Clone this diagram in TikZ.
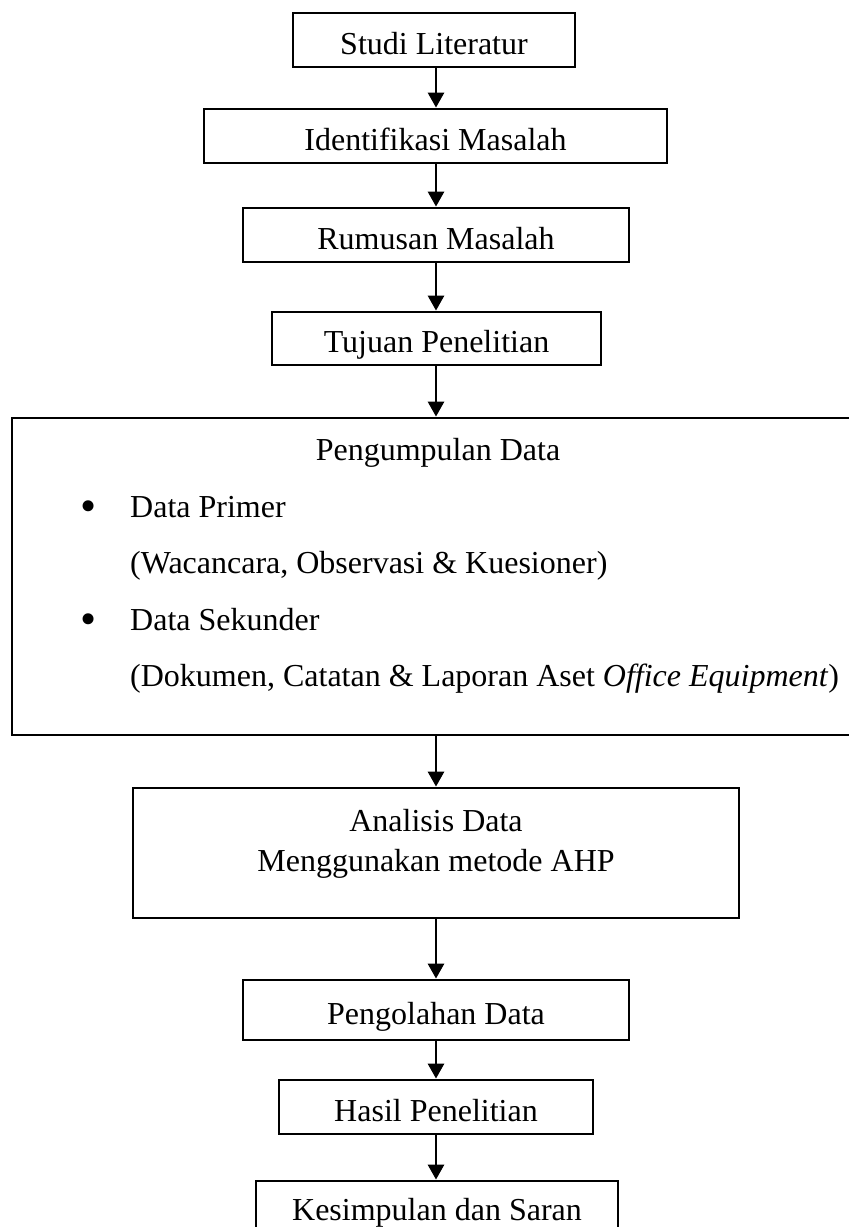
\documentclass[tikz,border=0pt]{standalone}
\usepackage{fontspec}
\setmainfont{Liberation Serif}
\usetikzlibrary{arrows.meta}
\begin{document}
\begin{tikzpicture}[x=1pt,y=-1pt,
  every node/.style={font=\fontsize{32}{40}\selectfont, inner sep=0pt},
  box/.style={draw, line width=2.8pt, text height=28pt, text depth=0pt},
  frame/.style={draw, line width=2.8pt},
  txt/.style={anchor=base},
  ltxt/.style={anchor=base west},
  bul/.style={anchor=base, font=\fontsize{46}{46}\selectfont},
  flow/.style={line width=2.8pt, -{Triangle[length=15pt,width=16pt]}}]
\useasboundingbox (0,0) rectangle (849,1227);
\clip (0,0) rectangle (849,1227);
\fill[white] (0,0) rectangle (849,1227);
\coordinate (ax) at (436,0);

\node[box, minimum width=282pt, minimum height=54pt] (studi) at (434,40) {Studi Literatur};
\node[box, minimum width=463pt, minimum height=54pt] (ident) at (435.5,136) {Identifikasi Masalah};
\node[box, minimum width=386pt, minimum height=54pt] (rumus) at (436,235) {Rumusan Masalah};
\node[box, minimum width=329pt, minimum height=53pt] (tujuan) at (436.5,338.5) {Tujuan Penelitian};

\node[frame, minimum width=848pt, minimum height=317pt] (pd) at (436,576.5) {};
\node[txt] (pdt) at (438,460) {Pengumpulan Data};
\node[bul] (b1) at (89,521) {\textbullet};
\node[ltxt] (dp) at (130,517) {Data Primer};
\node[ltxt] (dpk) at (130,573) {(Wacancara, Observasi \& Kuesioner)};
\node[bul] (b2) at (89,634) {\textbullet};
\node[ltxt] (ds) at (130,630) {Data Sekunder};
\node[ltxt] (dsk) at (130,686) {(Dokumen, Catatan \& Laporan Aset \textit{Office Equipment})};

\node[frame, minimum width=606pt, minimum height=130pt] (anal) at (436,853) {};
\node[txt] (at1) at (436,831) {Analisis Data};
\node[txt] (at2) at (436,871) {Menggunakan metode AHP};

\node[box, minimum width=386pt, minimum height=60pt] (olah) at (436,1010) {Pengolahan Data};
\node[box, minimum width=314pt, minimum height=54pt] (hasil) at (436,1107) {Hasil Penelitian};
\node[box, minimum width=362pt, minimum height=51pt] (kesim) at (437,1206.5) {Kesimpulan dan Saran};

\draw[flow] (studi.south -| ax) -- (ident.north -| ax);
\draw[flow] (ident.south -| ax) -- (rumus.north -| ax);
\draw[flow] (rumus.south -| ax) -- (tujuan.north -| ax);
\draw[flow] (tujuan.south -| ax) -- (pd.north -| ax);
\draw[flow] (pd.south -| ax) -- (anal.north -| ax);
\draw[flow] (anal.south -| ax) -- (olah.north -| ax);
\draw[flow] (olah.south -| ax) -- (hasil.north -| ax);
\draw[flow] (hasil.south -| ax) -- (kesim.north -| ax);
\end{tikzpicture}
\end{document}
